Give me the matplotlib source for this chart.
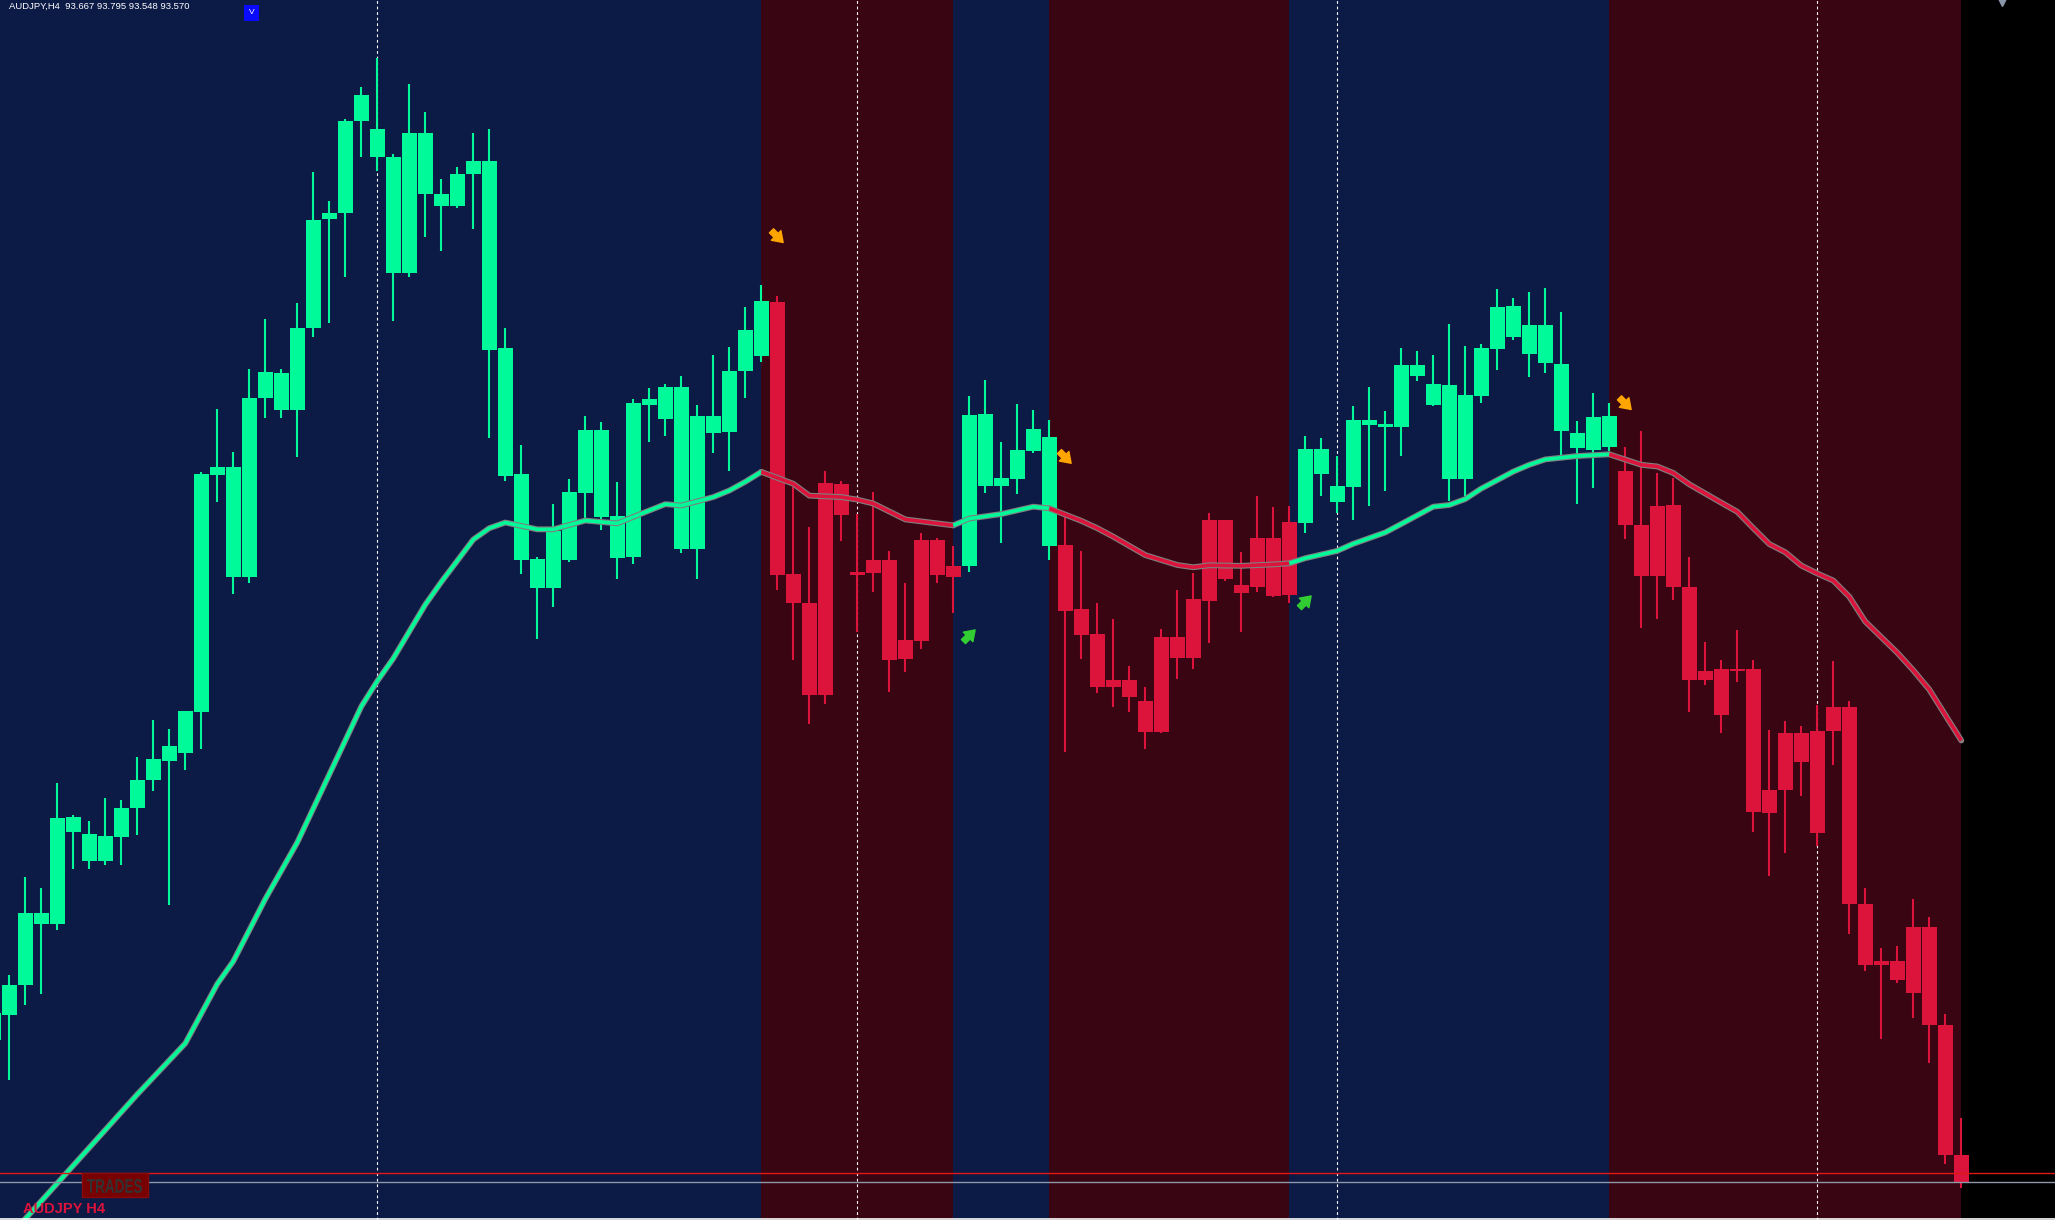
import numpy as np
import matplotlib
matplotlib.use('Agg')
import matplotlib.pyplot as plt
from matplotlib.patches import Rectangle, PathPatch
from matplotlib.textpath import TextPath
from matplotlib.font_manager import FontProperties
from matplotlib.transforms import Affine2D, IdentityTransform, offset_copy

# AUDJPY H4 candles, first one is cut by the left edge
opens = [94.071, 94.159, 94.265, 94.519, 94.481, 94.860, 94.799, 94.703, 94.790, 94.891,
         94.990, 95.058, 95.087, 95.230, 96.069, 96.095, 95.706, 96.340, 96.429, 96.297,
         96.587, 96.971, 96.992, 97.319, 97.291, 97.192, 96.782, 97.277, 97.060, 97.018,
         97.131, 97.178, 96.516, 96.072, 95.771, 95.669, 95.769, 96.006, 96.227, 95.924,
         95.780, 96.316, 96.267, 96.379, 95.808, 96.276, 96.221, 96.436, 96.487, 96.679,
         95.718, 95.616, 95.292, 96.035, 95.725, 95.720, 95.767, 95.419, 95.482, 95.838,
         95.706, 95.746, 96.283, 96.030, 96.054, 96.153, 96.202, 95.821, 95.595, 95.506,
         95.318, 95.344, 95.270, 95.161, 95.496, 95.423, 95.624, 95.909, 95.679, 95.674,
         95.846, 95.645, 95.900, 96.160, 96.029, 96.027, 96.262, 96.248, 96.239, 96.457,
         96.390, 96.386, 96.055, 96.348, 96.514, 96.665, 96.494, 96.597, 96.461, 96.218,
         96.158, 96.166, 96.081, 95.891, 95.710, 95.963, 95.673, 95.343, 95.383, 95.381,
         95.383, 94.873, 94.954, 95.157, 94.802, 95.165, 95.248, 94.551, 94.336, 94.350,
         94.238, 94.471, 94.124, 93.667]
highs = [94.200, 94.300, 94.646, 94.608, 94.981, 94.868, 94.844, 94.926, 94.919, 95.070,
         95.204, 95.169, 95.235, 96.078, 96.302, 96.149, 96.443, 96.620, 96.443, 96.674,
         97.140, 97.037, 97.326, 97.437, 97.541, 97.202, 97.449, 97.350, 97.112, 97.157,
         97.277, 97.291, 96.587, 96.174, 95.778, 95.966, 96.054, 96.276, 96.255, 96.042,
         96.336, 96.375, 96.389, 96.418, 96.315, 96.492, 96.520, 96.661, 96.740, 96.700,
         96.027, 95.885, 96.083, 96.047, 95.931, 96.009, 95.799, 95.686, 95.864, 95.845,
         95.817, 96.347, 96.403, 96.185, 96.319, 96.298, 96.262, 95.918, 95.800, 95.614,
         95.559, 95.393, 95.320, 95.524, 95.662, 95.722, 95.934, 95.909, 95.796, 95.994,
         95.955, 95.959, 96.206, 96.199, 96.136, 96.312, 96.379, 96.294, 96.517, 96.506,
         96.492, 96.602, 96.524, 96.531, 96.725, 96.693, 96.716, 96.728, 96.643, 96.260,
         96.359, 96.322, 96.166, 96.224, 96.075, 96.058, 95.779, 95.478, 95.414, 95.519,
         95.414, 95.167, 95.198, 95.182, 95.254, 95.412, 95.271, 94.609, 94.396, 94.404,
         94.570, 94.506, 94.164, 93.795]
lows = [94.030, 93.930, 94.194, 94.236, 94.460, 94.677, 94.677, 94.691, 94.691, 94.795,
        94.950, 94.550, 95.025, 95.101, 95.972, 95.649, 95.685, 96.271, 96.269, 96.132,
        96.556, 96.606, 96.766, 97.192, 97.143, 96.613, 96.768, 96.907, 96.860, 97.011,
        96.938, 96.198, 96.048, 95.718, 95.489, 95.600, 95.762, 95.914, 95.872, 95.699,
        95.755, 96.186, 96.207, 95.794, 95.702, 96.147, 96.083, 96.341, 96.468, 95.660,
        95.415, 95.187, 95.260, 95.833, 95.514, 95.655, 95.303, 95.373, 95.454, 95.685,
        95.581, 95.727, 96.006, 95.826, 96.002, 96.145, 95.769, 95.091, 95.419, 95.299,
        95.250, 95.232, 95.101, 95.158, 95.346, 95.381, 95.473, 95.695, 95.515, 95.656,
        95.636, 95.617, 95.862, 95.992, 95.935, 95.910, 95.960, 96.013, 96.136, 96.401,
        96.310, 95.977, 95.992, 96.324, 96.438, 96.546, 96.413, 96.427, 96.135, 95.965,
        96.023, 96.152, 95.841, 95.526, 95.559, 95.625, 95.229, 95.325, 95.155, 95.335,
        94.808, 94.651, 94.732, 94.933, 94.757, 95.045, 94.446, 94.317, 94.077, 94.272,
        94.151, 93.990, 93.633, 93.548]
closes = [94.166, 94.267, 94.519, 94.481, 94.856, 94.806, 94.703, 94.792, 94.891, 94.990,
          95.065, 95.112, 95.235, 96.071, 96.095, 95.706, 96.340, 96.431, 96.297, 96.589,
          96.968, 96.994, 97.319, 97.409, 97.192, 96.782, 97.277, 97.060, 97.018, 97.133,
          97.178, 96.509, 96.066, 95.769, 95.669, 95.869, 96.007, 96.227, 95.921, 95.776,
          96.322, 96.336, 96.379, 95.808, 96.276, 96.217, 96.435, 96.580, 96.682, 95.715,
          95.614, 95.292, 96.040, 95.928, 95.715, 95.767, 95.415, 95.485, 95.838, 95.715,
          95.746, 96.280, 96.030, 96.058, 96.156, 96.231, 95.818, 95.589, 95.504, 95.318,
          95.344, 95.285, 95.161, 95.496, 95.423, 95.630, 95.909, 95.701, 95.650, 95.846,
          95.642, 95.902, 96.160, 96.073, 95.974, 96.262, 96.246, 96.239, 96.457, 96.416,
          96.315, 96.055, 96.351, 96.517, 96.662, 96.557, 96.597, 96.463, 96.222, 96.162,
          96.272, 96.276, 95.891, 95.710, 95.959, 95.671, 95.345, 95.376, 95.219, 95.376,
          94.877, 94.956, 95.155, 95.053, 95.163, 95.248, 94.551, 94.336, 94.350, 94.284,
          94.471, 94.124, 93.664, 93.570]
first_bar = -1

# moving average (bar index, price)
ma_idx = [0, 1, 8, 11, 13, 14, 16, 18, 20, 22, 23, 24, 26, 27, 29, 30, 31, 33, 34, 36,
          38, 39, 41, 42, 44, 45, 46, 47, 48, 49, 50, 52, 53, 54, 56, 57, 59, 60, 62, 64,
          65, 67, 68, 69, 71, 73, 74, 75, 77, 79, 80, 81, 83, 84, 86, 87, 89, 90, 91, 92,
          94, 95, 96, 98, 100, 102, 103, 104, 105, 107, 108, 109, 110, 111, 112, 113, 114, 115,
          116, 118, 119, 120, 121, 122]
ma_val = [93.37, 93.44, 93.88, 94.06, 94.27, 94.35, 94.57, 94.77, 95.01, 95.25, 95.34, 95.42,
          95.61, 95.69, 95.84, 95.88, 95.90, 95.876, 95.876, 95.907, 95.897, 95.92, 95.965, 95.96,
          95.99, 96.013, 96.044, 96.079, 96.058, 96.037, 95.995, 95.99, 95.981, 95.967, 95.911,
          95.904, 95.890, 95.914, 95.93, 95.956, 95.950, 95.906, 95.88, 95.85, 95.785, 95.750,
          95.742, 95.749, 95.747, 95.752, 95.756, 95.774, 95.800, 95.825, 95.865, 95.895, 95.956,
          95.962, 95.983, 96.02, 96.08, 96.104, 96.123, 96.135, 96.141, 96.104, 96.098, 96.075,
          96.035, 95.97, 95.938, 95.880, 95.824, 95.795, 95.748, 95.720, 95.695, 95.638, 95.55,
          95.44, 95.378, 95.310, 95.22, 95.13]

# trend regimes: band k runs from edge k to edge k+1 (bar centres)
band_edges = [-2, 47, 59, 65, 80, 100, 122]
band_up = [True, False, True, False, True, False]

sell_idx = [48, 66, 101]
sell_px = [96.91, 96.13, 96.32]
buy_idx = [60, 81]
buy_px = [95.50, 95.62]

separators = [23, 53, 83, 113]
ask_price = 93.602
bid_price = 93.570

BLUE_BG = '#0c1a46'
RED_BG = '#3a0512'
UP_COL = '#00fa9a'
DN_COL = '#dc143c'
W, H = 2055, 1220

fig = plt.figure(figsize=(W / 100, H / 100), dpi=100, facecolor='black')
ax = fig.add_axes([0, 0, 1, 1])
ax.set_facecolor('black')
ax.set_xlim(-0.581, 127.856)
ax.set_ylim(93.436, 97.746)
ax.axis('off')

for k in range(len(band_up)):
    ax.axvspan(band_edges[k], band_edges[k + 1], color=BLUE_BG if band_up[k] else RED_BG,
               lw=0, zorder=0)

for s in separators:
    ax.axvline(s, color='white', lw=0.8, ls=(0, (2.5, 2.5)), zorder=1)

# candles, coloured by regime
x = np.arange(first_bar, first_bar + len(opens))
o = np.array(opens)
c = np.array(closes)
cols = []
for xi in x:
    k = np.searchsorted(band_edges, xi, side='left') - 1
    k = min(max(k, 0), len(band_up) - 1)
    cols.append(UP_COL if band_up[k] else DN_COL)

ax.vlines(x, lows, highs, colors=cols, lw=1.5, zorder=3)
body_lo = np.minimum(o, c)
body_h = np.maximum(np.abs(c - o), 0.004)
ax.bar(x, body_h, bottom=body_lo, width=0.92, color=cols, lw=0, zorder=4)

# moving average, grey rim with regime colour
ma_idx_a = np.array(ma_idx)
ma_val_a = np.array(ma_val)
for k in range(len(band_up)):
    m = (ma_idx_a >= band_edges[k]) & (ma_idx_a <= band_edges[k + 1])
    ax.plot(ma_idx_a[m], ma_val_a[m], color='#7f7f7f', lw=4.2, solid_capstyle='round', zorder=5)
for k in range(len(band_up)):
    m = (ma_idx_a >= band_edges[k]) & (ma_idx_a <= band_edges[k + 1])
    ax.plot(ma_idx_a[m], ma_val_a[m], color=UP_COL if band_up[k] else DN_COL, lw=2.6,
            solid_capstyle='butt', zorder=6)


def signal_arrow(xi, p, color, down):
    # chunky diagonal arrow centred on (xi, p)
    dy = -4.2 if down else 4.2
    tip = offset_copy(ax.transData, fig=fig, x=4.2, y=dy, units='points')
    tail = offset_copy(ax.transData, fig=fig, x=-4.2, y=-dy, units='points')
    ax.annotate('', xy=(xi, p), xycoords=tip, xytext=(xi, p), textcoords=tail,
                arrowprops=dict(arrowstyle='simple,head_length=0.55,head_width=0.75,tail_width=0.32',
                                color=color, mutation_scale=13, shrinkA=0, shrinkB=0),
                zorder=7)


for xi, p in zip(sell_idx, sell_px):
    signal_arrow(xi, p, '#ffa500', True)
for xi, p in zip(buy_idx, buy_px):
    signal_arrow(xi, p, '#32cd32', False)

# bid / ask lines
ax.axhline(ask_price, color='#e01818', lw=1.0, zorder=8)
ax.axhline(bid_price, color='#8c98a8', lw=1.0, zorder=8)

# time axis border at the very bottom
ax.plot([0, 1], [0.0012, 0.0012], transform=ax.transAxes, color='white', lw=1.2, zorder=9)

# header and labels
ax.text(9 / W, 1 - 2 / H, 'AUDJPY,H4  93.667 93.795 93.548 93.570', transform=ax.transAxes,
        color='white', fontsize=6.8, family='Liberation Sans', ha='left', va='top', zorder=10)
ax.add_patch(Rectangle((244 / W, 1 - 21 / H), 15 / W, 16 / H, transform=ax.transAxes,
                       color='#0a0aff', lw=0, zorder=10))
ax.text(251.5 / W, 1 - 13 / H, 'V', transform=ax.transAxes, color='white', fontsize=6,
        family='Liberation Sans', ha='center', va='center', zorder=11)
ax.plot([2002 / W], [1 - 2 / H], transform=ax.transAxes, marker='v', ms=6,
        color='#8a96aa', lw=0, zorder=10, clip_on=False)

ax.add_patch(Rectangle((82 / W, 1 - 1197 / H), 66 / W, 24 / H, transform=ax.transAxes,
                       facecolor='#780000', edgecolor='#8a0a0a', lw=1, zorder=10))
# condensed "TRADES" squeezed into the box (pixel coordinates)
tp = TextPath((0, 0), 'TRADES', size=1, prop=FontProperties(family='Liberation Sans', weight='bold'))
ext = tp.get_extents()
sx = 55 / ext.width
sy = 14 / ext.height
tr = Affine2D().translate(-ext.x0, -ext.y0).scale(sx, sy).translate(87, H - 1193) + IdentityTransform()
fig.patches.append(PathPatch(tp, transform=tr, facecolor='#333333', lw=0, zorder=11, figure=fig))

ax.text(23 / W, 1 - 1213 / H, 'AUDJPY H4', transform=ax.transAxes, color='#dc143c',
        fontsize=10.5, fontweight='bold', family='Liberation Sans', ha='left', va='baseline',
        zorder=10)

fig.savefig('out.png', dpi=100, facecolor='black')
